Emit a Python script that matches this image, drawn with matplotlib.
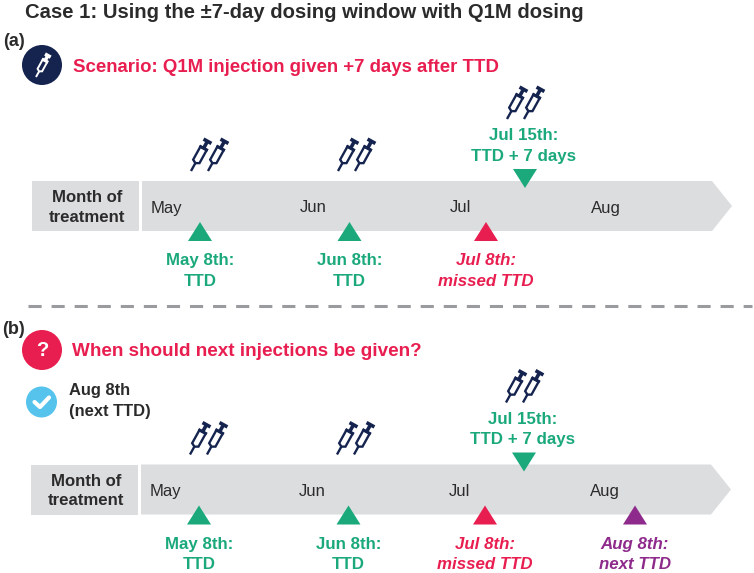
import numpy as np
import matplotlib
matplotlib.use("Agg")
import matplotlib.pyplot as plt
from matplotlib.patches import Polygon, Circle, Rectangle

plt.rcParams['font.family'] = ['Liberation Sans', 'DejaVu Sans']

TITLE = "Case 1: Using the ±7-day dosing window with Q1M dosing"
PANEL_A = "(a)"
PANEL_B = "(b)"
SCENARIO = "Scenario: Q1M injection given +7 days after TTD"
QUESTION = "When should next injections be given?"
ANSWER = "Aug 8th\n(next TTD)"
ROW_LABEL = "Month of\ntreatment"
MONTHS = ["May", "Jun", "Jul", "Aug"]
LABELS_A = ["May 8th:\nTTD", "Jun 8th:\nTTD", "Jul 8th:\nmissed TTD"]
LABELS_B = ["May 8th:\nTTD", "Jun 8th:\nTTD", "Jul 8th:\nmissed TTD", "Aug 8th:\nnext TTD"]
GIVEN = "Jul 15th:\nTTD + 7 days"

GREEN, RED, PURPLE = "#1BA97C", "#E91E50", "#8E2A8B"
NAVY, GREY, DARK = "#15234F", "#DCDDDF", "#2B2B2B"

fig = plt.figure(figsize=(7.54, 5.73), dpi=100)
ax = fig.add_axes([0, 0, 1, 1])
ax.set_xlim(0, 754)
ax.set_ylim(573, 0)
ax.axis("off")


def syringe(x, y, scale=1.0, color=NAVY, lw=1.7):
    """x, y = needle tip; the body runs up and to the right."""
    ang = np.deg2rad(61)
    u = np.array([np.cos(ang), -np.sin(ang)])
    v = np.array([np.sin(ang), np.cos(ang)])
    p0 = np.array([x, y])

    def P(a, b):
        return p0 + scale * (a * u + b * v)

    def seg(a1, b1, a2, b2, w=lw):
        A, B = P(a1, b1), P(a2, b2)
        ax.plot([A[0], B[0]], [A[1], B[1]], color=color, lw=w, solid_capstyle="butt")

    seg(0, 0, 9, 0)
    ax.add_patch(Polygon([P(9, 0), P(11, -3.6), P(26, -3.6), P(26, 3.6), P(11, 3.6)],
                         closed=True, fill=False, ec=color, lw=lw))
    seg(26, 0, 34, 0, 2.6)
    seg(26, -4.8, 26, 4.8, 2.2)
    seg(34, -4.5, 34, 4.5, 2.6)


def syringes(x, y):
    syringe(x, y)
    syringe(x + 17, y)


def tri(cx, top, bottom, color, down=False):
    hw = 12
    if down:
        pts = [(cx - hw, top), (cx + hw, top), (cx, bottom)]
    else:
        pts = [(cx, top), (cx - hw, bottom), (cx + hw, bottom)]
    ax.add_patch(Polygon(pts, closed=True, fc=color, ec="none"))


def label(x, y, s, color, style="normal", weight="bold", size=12.2, ha="center", ls=1.46):
    ax.text(x, y, s, color=color, fontsize=size, fontweight=weight, fontstyle=style,
            ha=ha, va="center", linespacing=ls)


def timeline(dx, dy, labels, colors, styles, tx):
    top, bot = 181 + dy, 231 + dy
    ax.add_patch(Rectangle((32 + dx, top), 107, bot - top, fc=GREY, ec="none"))
    ax.add_patch(Polygon([(142 + dx, top), (712 + dx, top), (732 + dx, (top + bot) / 2),
                          (712 + dx, bot), (142 + dx, bot)], closed=True, fc=GREY, ec="none"))
    label(87 + dx, 207.5 + dy, ROW_LABEL, DARK, size=12.1, ls=1.4)
    for mx, m in zip([166.5, 313, 460, 606], MONTHS):
        label(mx + dx, 208 + dy, m, DARK, weight="normal", size=12)
    for x, s, c, st in zip(tx, labels, colors, styles):
        tri(x + dx, 222 + dy, 241 + dy, c)
        label(x + dx, 271 + dy, s, c, style=st)
    tri(525 + dx, 169 + dy, 188 + dy, GREEN, down=True)
    label(524 + dx, 146 + dy, GIVEN, GREEN)
    for sx, sy in [(191, 171), (338, 171), (507, 119)]:
        syringes(sx + dx, sy + dy)


ax.text(25, 13, TITLE, fontsize=14.6, fontweight="bold", color=DARK, ha="left", va="center")
ax.text(3, 42, PANEL_A, fontsize=13, fontweight="bold", color=DARK, ha="left", va="center")
ax.text(2, 329, PANEL_B, fontsize=13, fontweight="bold", color=DARK, ha="left", va="center")

# header (a)
ax.add_patch(Circle((42, 65), 20, fc=NAVY, ec="none"))
syringe(36, 77, scale=0.72, color="white", lw=1.4)
ax.text(73, 67, SCENARIO, fontsize=13.45, fontweight="bold", color=RED, ha="left", va="center")

timeline(0, 0, LABELS_A, [GREEN, GREEN, RED], ["normal", "normal", "italic"], [200, 349.5, 486])

# separator
ax.plot([28, 752], [306, 306], color="#9A9B9E", lw=2.2, dashes=(4.3, 3.25))

# header (b)
ax.add_patch(Circle((42, 350), 20, fc=RED, ec="none"))
ax.text(42, 351, "?", fontsize=14.5, fontweight="bold", color="white", ha="center", va="center")
ax.text(72, 352, QUESTION, fontsize=13.6, fontweight="bold", color=RED, ha="left", va="center")
ax.add_patch(Circle((41.5, 402), 15.5, fc="#55C3EC", ec="none"))
ax.plot([34.5, 40, 49], [402, 407, 397.5], color="white", lw=3, solid_capstyle="round",
        solid_joinstyle="round")
ax.text(69, 401, ANSWER, fontsize=11.9, fontweight="bold", color=DARK, ha="left", va="center",
        linespacing=1.45)

timeline(-1, 283.5, LABELS_B, [GREEN, GREEN, RED, PURPLE],
         ["normal", "normal", "italic", "italic"], [200, 349.5, 486, 636])

fig.savefig("out.png", dpi=100)
